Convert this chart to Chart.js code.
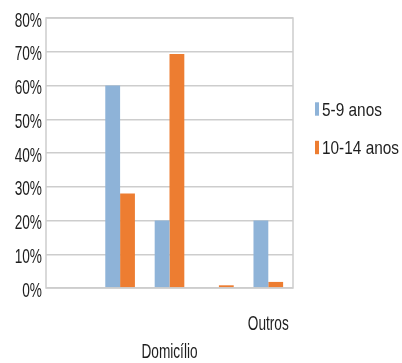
<!DOCTYPE html>
<html>
<head>
<meta charset="utf-8">
<script src="https://cdn.jsdelivr.net/npm/chart.js@4"></script>
<style>
  html, body { margin: 0; padding: 0; background: #fff; }
  #wrap { width: 402px; height: 363px; }
</style>
</head>
<body>
<div id="wrap"><canvas id="myChart" width="402" height="363"></canvas></div>
<script>
const categories = ['', '', 'Domicílio', '', 'Outros'];
// staggered like the original: Domicílio sits on the second row
const tickLabels = [[''], [''], ['', 'Domicílio'], [''], ['Outros']];
const seriesNames = ['5-9 anos', '10-14 anos'];
const kids59 = [0, 60, 20, 0, 20];
const kids1014 = [0, 28, 69.3, 0.8, 1.8];
const yTicks = [0, 10, 20, 30, 40, 50, 60, 70, 80];

const fontFamily = "'Liberation Sans', Arial, sans-serif";
const textColor = '#1e1e1e';
const lineColor = '#cdcdcd';

// the original text is squeezed sideways (Calibri, narrowed), so draw it with a horizontal scale
function squeezedText(ctx, text, x, y, sx, align) {
  ctx.save();
  ctx.translate(x, y);
  ctx.scale(sx, 1);
  ctx.textAlign = align;
  ctx.fillText(text, 0, 0);
  ctx.restore();
}

const framePlugin = {
  id: 'frame',
  afterDraw(chart) {
    const { ctx, chartArea, scales } = chart;
    ctx.save();
    ctx.strokeStyle = lineColor;
    ctx.lineWidth = 1.5;
    ctx.strokeRect(chartArea.left, chartArea.top, chartArea.right - chartArea.left, chartArea.bottom - chartArea.top);

    ctx.fillStyle = textColor;
    ctx.textBaseline = 'alphabetic';
    ctx.font = '21px ' + fontFamily;

    // y tick labels
    yTicks.forEach(v => {
      const y = scales.y.getPixelForValue(v);
      squeezedText(ctx, v + '%', chartArea.left - 4, y + 8.5, 0.65, 'right');
    });

    // x tick labels, one row per line
    tickLabels.forEach((lines, i) => {
      const x = scales.x.getPixelForValue(i);
      lines.forEach((txt, row) => {
        if (txt) squeezedText(ctx, txt, x, chartArea.bottom + 42 + row * 28, 0.65, 'center');
      });
    });

    // legend on the right
    ctx.font = '19px ' + fontFamily;
    const rows = [109, 147.5];
    chart.data.datasets.forEach((ds, i) => {
      ctx.fillStyle = ds.backgroundColor;
      ctx.fillRect(315, rows[i] - 6.7, 4, 13.4);
      ctx.fillStyle = textColor;
      squeezedText(ctx, ds.label, 322, rows[i] + 6.7, 0.81, 'left');
    });
    ctx.restore();
  }
};

const ctx = document.getElementById('myChart').getContext('2d');
new Chart(ctx, {
  type: 'bar',
  data: {
    labels: categories,
    datasets: [
      {
        label: seriesNames[0],
        data: kids59,
        backgroundColor: '#8eb3d8',
        categoryPercentage: 0.6,
        barPercentage: 1.0
      },
      {
        label: seriesNames[1],
        data: kids1014,
        backgroundColor: '#ed7d31',
        categoryPercentage: 0.6,
        barPercentage: 1.0
      }
    ]
  },
  options: {
    responsive: false,
    animation: false,
    layout: { padding: { top: 18, right: 109, left: 0, bottom: 0 } },
    plugins: {
      legend: { display: false },
      tooltip: { enabled: false }
    },
    scales: {
      x: {
        grid: { display: false },
        border: { display: false },
        ticks: { display: false },
        afterFit: function(scale) {
          scale.height = 75;
        }
      },
      y: {
        min: 0,
        max: 80,
        afterBuildTicks: function(scale) {
          scale.ticks = yTicks.map(v => ({ value: v }));
        },
        grid: { color: lineColor, lineWidth: 1.5, drawTicks: false },
        border: { display: false },
        ticks: { display: false },
        afterFit: function(scale) {
          scale.width = 46;
        }
      }
    }
  },
  plugins: [framePlugin]
});
</script>
</body>
</html>
